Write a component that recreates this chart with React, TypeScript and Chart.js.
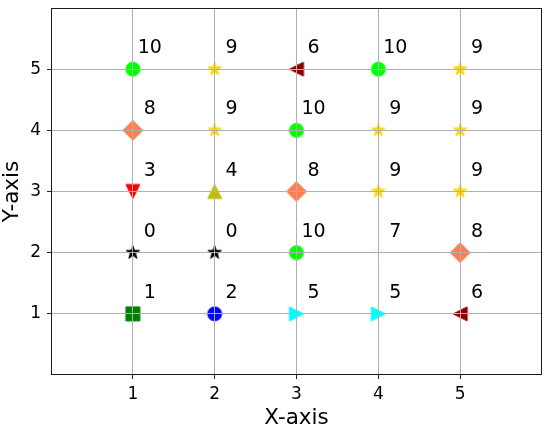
import React, { useEffect, useRef } from 'react';
import { Chart, registerables } from 'chart.js';

Chart.register(...registerables);

// ---- data ----
const xCategories = [1, 2, 3, 4, 5];
const yCategories = [1, 2, 3, 4, 5];
// values for each row (y = 1 .. 5), left to right x = 1 .. 5
const rowY1 = [1, 2, 5, 5, 6];
const rowY2 = [0, 0, 10, 7, 8];
const rowY3 = [3, 4, 8, 9, 9];
const rowY4 = [8, 9, 10, 9, 9];
const rowY5 = [10, 9, 6, 10, 9];
const rows = [rowY1, rowY2, rowY3, rowY4, rowY5];
const tickValues = [1, 2, 3, 4, 5];
const xTitle = 'X-axis';
const yTitle = 'Y-axis';

// marker style by value 0..10
const markerShapes = ['star', 'square', 'circle', 'triangleDown', 'triangleUp', 'triangleRight', 'triangleLeft', 'triDown', 'diamond', 'star', 'circle'];
const markerColors = ['#000000', '#008000', '#0000ff', '#ff0000', '#bfbf00', '#00ffff', '#8b0000', '#eef0b8', '#ff7f50', '#ffd700', '#00ff00'];

const FONT = '"DejaVu Sans", "Liberation Sans", sans-serif';

function makeMarker(shape: string, color: string, size = 14) {
  const S = 28;
  const cv = document.createElement('canvas');
  cv.width = S;
  cv.height = S;
  const g = cv.getContext('2d')!;
  const c = S / 2;
  const h = size / 2;
  g.fillStyle = color;
  g.strokeStyle = color;
  g.lineWidth = 1;
  g.lineJoin = 'miter';
  g.beginPath();
  if (shape === 'circle') {
    g.arc(c, c, h, 0, Math.PI * 2);
  } else if (shape === 'square') {
    g.rect(c - h, c - h, 2 * h, 2 * h);
  } else if (shape === 'diamond') {
    const d = h * Math.SQRT2;
    g.moveTo(c, c - d);
    g.lineTo(c + d, c);
    g.lineTo(c, c + d);
    g.lineTo(c - d, c);
    g.closePath();
  } else if (shape === 'triangleUp') {
    g.moveTo(c, c - h);
    g.lineTo(c - h, c + h);
    g.lineTo(c + h, c + h);
    g.closePath();
  } else if (shape === 'triangleDown') {
    g.moveTo(c, c + h);
    g.lineTo(c - h, c - h);
    g.lineTo(c + h, c - h);
    g.closePath();
  } else if (shape === 'triangleLeft') {
    g.moveTo(c - h, c);
    g.lineTo(c + h, c - h);
    g.lineTo(c + h, c + h);
    g.closePath();
  } else if (shape === 'triangleRight') {
    g.moveTo(c + h, c);
    g.lineTo(c - h, c - h);
    g.lineTo(c - h, c + h);
    g.closePath();
  } else if (shape === 'star') {
    const R = h;
    const r = h * 0.381966;
    for (let k = 0; k < 10; k++) {
      const a = -Math.PI / 2 + (k * Math.PI) / 5;
      const rad = k % 2 === 0 ? R : r;
      const px = c + Math.cos(a) * rad;
      const py = c + Math.sin(a) * rad;
      if (k === 0) g.moveTo(px, py);
      else g.lineTo(px, py);
    }
    g.closePath();
  } else if (shape === 'triDown') {
    g.moveTo(c, c);
    g.lineTo(c, c + h);
    g.moveTo(c, c);
    g.lineTo(c - h * 0.866, c - h * 0.5);
    g.moveTo(c, c);
    g.lineTo(c + h * 0.866, c - h * 0.5);
    g.stroke();
    return cv;
  }
  g.fill();
  g.stroke();
  return cv;
}

const annotationPlugin = {
  id: 'valueAnnotations',
  afterDatasetsDraw(chart: any) {
    const ctx = chart.ctx;
    const meta = chart.getDatasetMeta(0);
    const data = chart.data.datasets[0].data as any[];
    ctx.save();
    ctx.font = `19px ${FONT}`;
    ctx.fillStyle = '#000';
    ctx.textAlign = 'center';
    ctx.textBaseline = 'alphabetic';
    meta.data.forEach((el: any, i: number) => {
      ctx.fillText(String(data[i].v), el.x + 17, el.y - 16);
    });
    ctx.restore();
  },
};

const framePlugin = {
  id: 'frame',
  afterDraw(chart: any) {
    const { left, top, right, bottom } = chart.chartArea;
    const ctx = chart.ctx;
    ctx.save();
    ctx.strokeStyle = '#1a1a1a';
    ctx.lineWidth = 1;
    const x1 = Math.floor(left) + 0.5;
    const y1 = Math.floor(top) + 0.5;
    const x2 = Math.ceil(right) - 0.5;
    const y2 = Math.ceil(bottom) - 0.5;
    ctx.strokeRect(x1, y1, x2 - x1, y2 - y1);
    ctx.restore();
  },
};

export default function App() {
  const ref = useRef<HTMLCanvasElement>(null);

  useEffect(() => {
    if (!ref.current) return;
    const markers = markerShapes.map((s, i) => makeMarker(s, markerColors[i]));
    const points: { x: number; y: number; v: number }[] = [];
    rows.forEach((row, i) => {
      row.forEach((v, j) => {
        points.push({ x: xCategories[j], y: yCategories[i], v });
      });
    });

    const axisCommon = (title: string) => ({
      type: 'linear' as const,
      min: 0,
      max: 6,
      afterBuildTicks: (s: any) => {
        s.ticks = tickValues.map((v) => ({ value: v }));
      },
      grid: {
        color: '#b0b0b0',
        lineWidth: 1,
        z: 1,
        drawTicks: true,
        tickLength: 4,
        tickColor: '#222',
      },
      border: { display: false },
      title: {
        display: true,
        text: title,
        color: '#000',
        font: { family: FONT, size: 21.5, lineHeight: 1 },
        padding: { top: 2, bottom: 0 },
      },
    });

    const chart = new Chart(ref.current, {
      type: 'scatter',
      data: {
        datasets: [
          {
            data: points as any,
            pointStyle: (ctx: any) => markers[points[ctx.dataIndex].v] as any,
            pointRadius: 7,
            pointHoverRadius: 7,
          },
        ],
      },
      options: {
        responsive: false,
        animation: false,
        events: [],
        layout: { padding: { left: 0, top: 7, right: 7, bottom: 0 } },
        plugins: {
          legend: { display: false },
          tooltip: { enabled: false },
        },
        scales: {
          x: {
            ...axisCommon(xTitle),
            position: 'bottom',
            afterFit: (s: any) => {
              s.height = 54;
              s.paddingLeft = 0;
              s.paddingRight = 0;
            },
            ticks: { color: '#000', font: { family: FONT, size: 17 }, padding: 5 },
          } as any,
          y: {
            ...axisCommon(yTitle),
            position: 'left',
            afterFit: (s: any) => {
              s.width = 51;
              s.paddingTop = 0;
              s.paddingBottom = 0;
            },
            ticks: { color: '#000', font: { family: FONT, size: 17 }, padding: 6 },
          } as any,
        },
      },
      plugins: [annotationPlugin, framePlugin],
    });
    return () => chart.destroy();
  }, []);

  return (
    <div style={{ position: 'absolute', left: 0, top: 0, width: 550, height: 429, background: '#fff' }}>
      <canvas ref={ref} width={550} height={429} style={{ display: 'block' }} />
    </div>
  );
}
